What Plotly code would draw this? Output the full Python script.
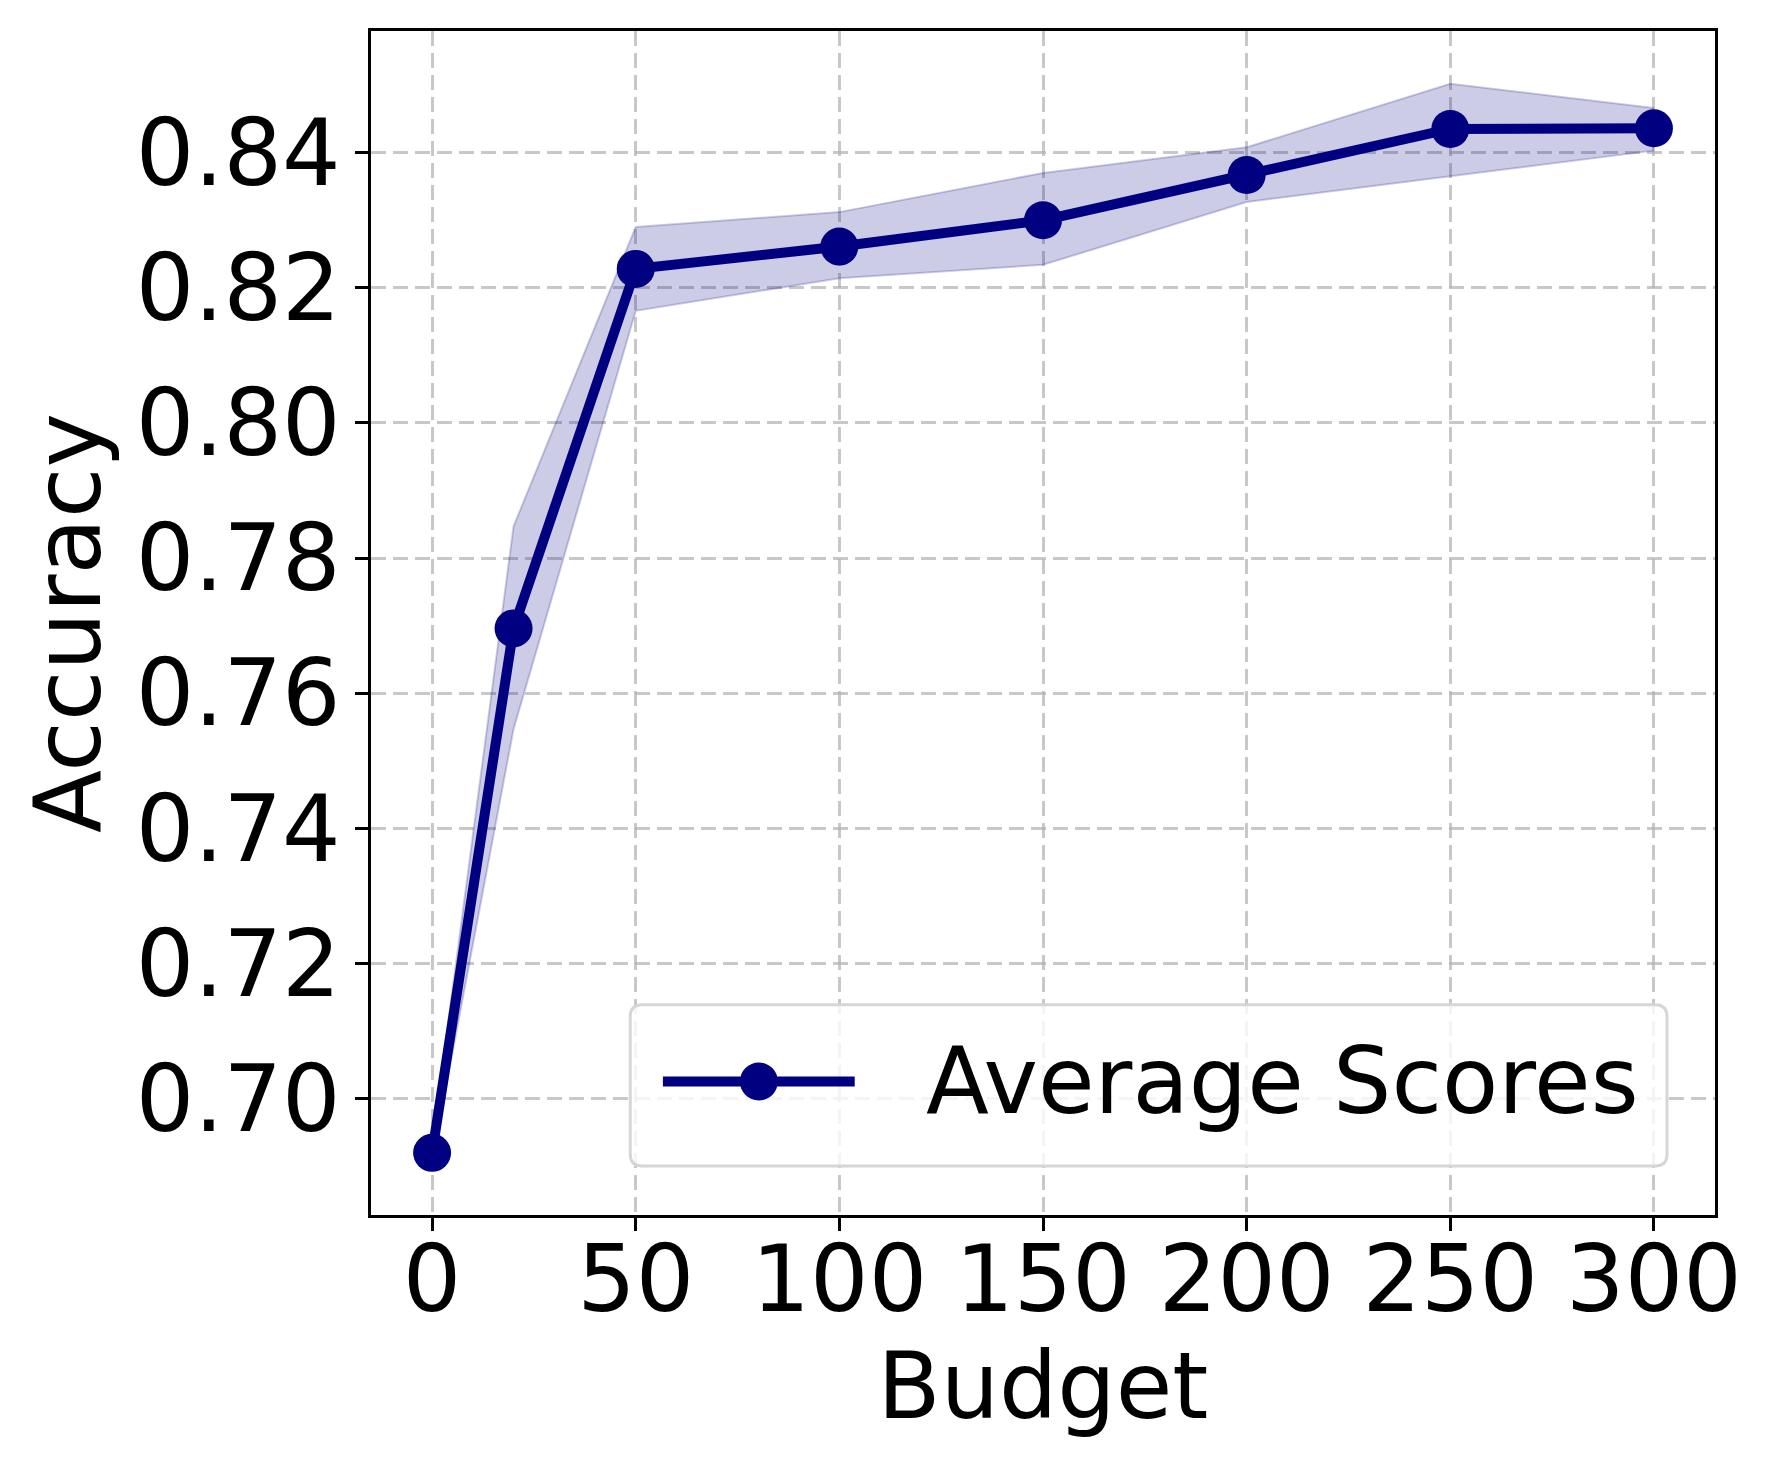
import plotly.graph_objects as go

# budget vs accuracy (mean with min/max band)
budget = [0, 20, 50, 100, 150, 200, 250, 300]
acc_mean = [0.6920, 0.7696, 0.8228, 0.8261, 0.8300, 0.8367, 0.8435, 0.8436]
acc_upper = [0.6932, 0.7847, 0.8290, 0.8312, 0.8370, 0.8408, 0.8502, 0.8466]
acc_lower = [0.6908, 0.7547, 0.8166, 0.8214, 0.8234, 0.8327, 0.8365, 0.8403]

x_ticks = [0, 50, 100, 150, 200, 250, 300]
y_ticks = [0.70, 0.72, 0.74, 0.76, 0.78, 0.80, 0.82, 0.84]

series_name = "Average Scores"

navy = "#000080"
band = "rgba(0,0,128,0.2)"
font = "DejaVu Sans"
fsize = 92
line_w = 10
marker_d = 38

W, H = 1764, 1462   # page body adds 8px margin
ML, MR, MT, MB = 363, 57, 23, 255
pw, ph = W - ML - MR, H - MT - MB

fig = go.Figure()

fig.add_trace(go.Scatter(x=budget, y=acc_lower, mode="lines",
                         line=dict(color=band, width=2),
                         showlegend=False, hoverinfo="skip"))
fig.add_trace(go.Scatter(x=budget, y=acc_upper, mode="lines",
                         line=dict(color=band, width=2),
                         fill="tonexty", fillcolor=band,
                         showlegend=False, hoverinfo="skip"))
fig.add_trace(go.Scatter(x=budget, y=acc_mean, mode="lines+markers",
                         name=series_name, showlegend=False,
                         line=dict(color=navy, width=line_w),
                         marker=dict(color=navy, size=marker_d)))

axis_common = dict(
    showline=True, linecolor="black", linewidth=3, mirror=True,
    ticks="outside", ticklen=13, tickwidth=3, tickcolor="black",
    showgrid=True, gridcolor="rgba(176,176,176,0.7)", gridwidth=2.5,
    griddash="15px,7px", zeroline=False,
    tickfont=dict(family=font, size=fsize, color="black"),
)

fig.update_xaxes(range=[-15, 315], tickvals=x_ticks, ticklabelstandoff=-30,
                 title=dict(text="Budget", font=dict(family=font, size=fsize, color="black"),
                            standoff=20),
                 **axis_common)
fig.update_yaxes(range=[0.6828, 0.858], tickvals=y_ticks, tickformat=".2f",
                 ticklabelstandoff=-4,
                 title=dict(text="Accuracy", font=dict(family=font, size=fsize, color="black"),
                            standoff=5),
                 **axis_common)

# legend box drawn by hand (matplotlib style: rounded, big marker)
bx0, bx1, by0, by1 = 0.1929, 0.9643, 0.0414, 0.1776
rx, ry = 12 / pw, 12 / ph
box_path = (f"M {bx0+rx},{by0} L {bx1-rx},{by0} Q {bx1},{by0} {bx1},{by0+ry} "
            f"L {bx1},{by1-ry} Q {bx1},{by1} {bx1-rx},{by1} "
            f"L {bx0+rx},{by1} Q {bx0},{by1} {bx0},{by1-ry} "
            f"L {bx0},{by0+ry} Q {bx0},{by0} {bx0+rx},{by0} Z")
leg_y = 0.1128
fig.add_shape(type="path", path=box_path, xref="paper", yref="paper",
              fillcolor="rgba(255,255,255,0.8)", line=dict(color="#d6d6d6", width=3),
              layer="above")
fig.add_shape(type="line", xref="paper", yref="paper",
              x0=0.2172, x1=0.3599, y0=leg_y, y1=leg_y,
              line=dict(color=navy, width=line_w), layer="above")
fig.add_shape(type="circle", xref="paper", yref="paper",
              xsizemode="pixel", ysizemode="pixel", xanchor=0.2886, yanchor=leg_y,
              x0=-marker_d / 2, x1=marker_d / 2, y0=-marker_d / 2, y1=marker_d / 2,
              fillcolor=navy, line=dict(color=navy, width=0), layer="above")
fig.add_annotation(text=series_name, xref="paper", yref="paper",
                   x=0.4112, y=leg_y, xanchor="left", yanchor="middle",
                   showarrow=False, font=dict(family=font, size=fsize, color="black"))

fig.update_layout(
    width=W, height=H,
    margin=dict(l=ML, r=MR, t=MT, b=MB),
    plot_bgcolor="white", paper_bgcolor="white",
    font=dict(family=font, color="black"),
    showlegend=False,
)

fig.write_html("out.html")
